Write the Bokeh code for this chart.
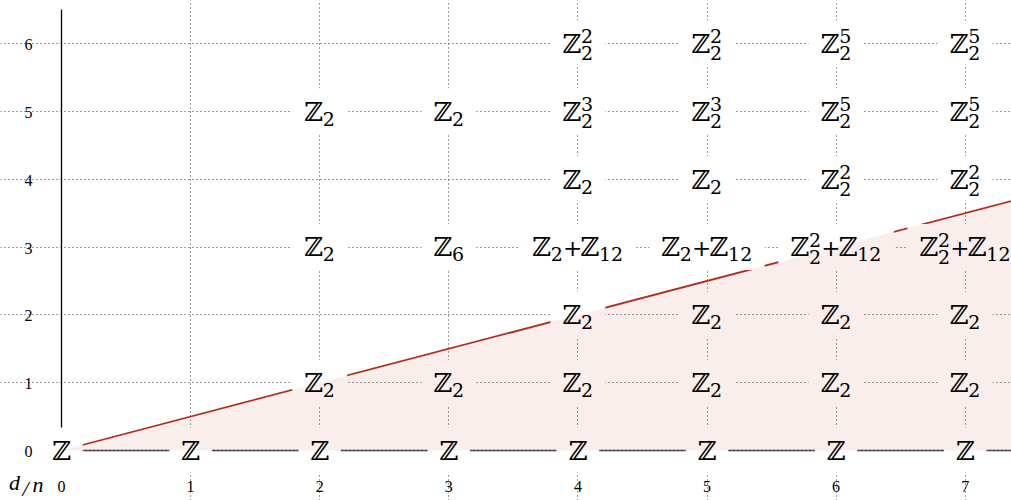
from bokeh.plotting import figure
from bokeh.models import Range1d, Grid, FixedTicker, ColumnDataSource
from bokeh.core.properties import value
from bokeh.embed import file_html
from bokeh.resources import INLINE

# Spectral sequence page: filtration n (columns) against degree (rows)
cols = [0, 1, 2, 3, 4, 5, 6, 7]
rows = [0, 1, 2, 3, 4, 5, 6]

# Non-zero entries: column, row and the group written as "Z<order>^<rank>" terms
cell_x = [0, 1, 2, 3, 4, 5, 6, 7,
          2, 3, 4, 5, 6, 7,
          4, 5, 6, 7,
          2, 3, 4, 5, 6, 7,
          4, 5, 6, 7,
          2, 3, 4, 5, 6, 7,
          4, 5, 6, 7]
cell_y = [0, 0, 0, 0, 0, 0, 0, 0,
          1, 1, 1, 1, 1, 1,
          2, 2, 2, 2,
          3, 3, 3, 3, 3, 3,
          4, 4, 4, 4,
          5, 5, 5, 5, 5, 5,
          6, 6, 6, 6]
groups = ["Z", "Z", "Z", "Z", "Z", "Z", "Z", "Z",
          "Z2", "Z2", "Z2", "Z2", "Z2", "Z2",
          "Z2", "Z2", "Z2", "Z2",
          "Z2", "Z6", "Z2+Z12", "Z2+Z12", "Z2^2+Z12", "Z2^2+Z12",
          "Z2", "Z2", "Z2^2", "Z2^2",
          "Z2", "Z2", "Z2^3", "Z2^3", "Z2^5", "Z2^5",
          "Z2^2", "Z2^2", "Z2^5", "Z2^5"]

# Vanishing line: degree = slope * n
line_slope = 0.5

# ---- geometry (pixels per unit and origin inside the canvas) ----
W, H = 1011, 500
UX, UY = 129.1, 67.83
OX, OY = 61, 450
x0, x1 = -OX / UX, (W - OX) / UX
y0, y1 = -(H - OY) / UY, OY / UY
top = 6.5

RED = "#b22e1e"
SHADE = "#bb4426"
DOT = "#3a3a3a"

p = figure(width=W, height=H, x_range=Range1d(x0, x1), y_range=Range1d(y0, y1),
           x_axis_type=None, y_axis_type=None, toolbar_location=None,
           output_backend="svg", min_border=0, outline_line_color=None,
           background_fill_color="white", border_fill_color="white")

# dotted lattice
p.add_layout(Grid(dimension=0, ticker=FixedTicker(ticks=cols[1:]), bounds=(0, top),
                  grid_line_color=DOT, grid_line_dash="1 3", grid_line_width=1))
p.add_layout(Grid(dimension=1, ticker=FixedTicker(ticks=rows[1:]), bounds=(-0.15, x1 + 1),
                  grid_line_color=DOT, grid_line_dash="1 3", grid_line_width=1))

# bottom row connector, vanishing line and vertical axis
p.line(x=[0, x1 + 1], y=[0, 0], line_color="#5a5a5a", line_width=1.6)
p.line(x=[0, x1 + 1], y=[0, 0], line_color="#222222", line_width=1.6, line_dash="1 3")
p.line(x=[0, x1 + 1], y=[0, line_slope * (x1 + 1)], line_color=RED, line_width=1.8)
p.line(x=[0, 0], y=[0, top], line_color="black", line_width=1.3)

# ---- typesetting of the group labels ----
SZ_Z, SZ_OP, SZ_SCRIPT = 26, 23, 19
ADV_Z, ADV_DIG, ADV_PLUS = 18.5, 12.3, 17.5
# baselines below the cell centre (px); the renderer sits text ~0.35em low
DROP = 0.35
BASE_Z = 9.5 - DROP * SZ_Z
BASE_OP = 9.5 - DROP * SZ_OP
BASE_SUB = 14.0 - DROP * SZ_SCRIPT
BASE_SUB2 = 16.5 - DROP * SZ_SCRIPT
BASE_SUP = -0.5 - DROP * SZ_SCRIPT


def typeset(label):
    parts, pos = [], 0.0
    for k, term in enumerate(label.split("+")):
        if k:
            parts.append(("+", "op", pos))
            pos += ADV_PLUS
        base, _, rank = term.partition("^")
        order = base[1:]
        parts.append(("\u2124", "Z", pos))
        pos += ADV_Z
        w = 0.0
        if order:
            parts.append((order, "sub2" if rank else "sub", pos))
            w = len(order) * ADV_DIG
        if rank:
            parts.append((rank, "sup", pos))
            w = max(w, len(rank) * ADV_DIG)
        pos += w
    return [(t, kind, dx - pos / 2) for t, kind, dx in parts], pos


pieces = {"Z": dict(x=[], y=[], text=[], dx=[], dy=[]),
          "op": dict(x=[], y=[], text=[], dx=[], dy=[]),
          "script": dict(x=[], y=[], text=[], dx=[], dy=[])}
box = dict(x=[], y=[], w=[])
for cx, cy, g in zip(cell_x, cell_y, groups):
    parts, width = typeset(g)
    box["x"].append(cx)
    box["y"].append(cy)
    box["w"].append(width + 24)
    for t, kind, dx in parts:
        key = kind if kind in ("Z", "op") else "script"
        dy = {"Z": BASE_Z, "op": BASE_OP, "sub": BASE_SUB,
              "sub2": BASE_SUB2, "sup": BASE_SUP}[kind]
        d = pieces[key]
        d["x"].append(cx)
        d["y"].append(cy)
        d["text"].append(t)
        d["dx"].append(dx)
        d["dy"].append(dy)

# label backgrounds knock out the lattice and the vanishing line
p.rect(x="x", y="y", width="w", height=46, width_units="screen", height_units="screen",
       source=ColumnDataSource(box), fill_color="white", line_color=None)

# region below the vanishing line
p.varea(x=[0, x1 + 1], y1=[0, 0], y2=[0, line_slope * (x1 + 1)],
        fill_color=SHADE, fill_alpha=0.09)

for key, size in (("Z", SZ_Z), ("op", SZ_OP), ("script", SZ_SCRIPT)):
    p.text(x="x", y="y", text="text", x_offset="dx", y_offset="dy",
           source=ColumnDataSource(pieces[key]), text_font=value("DejaVu Serif"),
           text_font_size=f"{size}px", text_align="left", text_baseline="alphabetic",
           text_color="black")

# tick labels
SZ_TICK = 16
p.text(x=[0] * len(rows), y=rows, text=[str(r) for r in rows], x_offset=-33, y_offset=1,
       text_font=value("Liberation Serif"), text_font_size=f"{SZ_TICK}px",
       text_align="center", text_baseline="middle", text_color="black")
p.text(x=cols, y=[0] * len(cols), text=[str(c) for c in cols], x_offset=0,
       y_offset=41.5 - DROP * SZ_TICK,
       text_font=value("Liberation Serif"), text_font_size=f"{SZ_TICK}px",
       text_align="center", text_baseline="alphabetic", text_color="black")

# corner label d/n
SZ_DN = 22
p.text(x=[0, 0, 0], y=[0, 0, 0], text=["d", "/", "n"], x_offset=[-47, -36, -23.5],
       y_offset=[40 - DROP * SZ_DN, 46 - DROP * SZ_DN, 42 - DROP * SZ_DN],
       text_font=value("Liberation Serif"),
       text_font_size=f"{SZ_DN}px", text_font_style="italic",
       text_align="center", text_baseline="alphabetic", text_color="black")

open("out.html", "w").write(file_html(p, INLINE))
